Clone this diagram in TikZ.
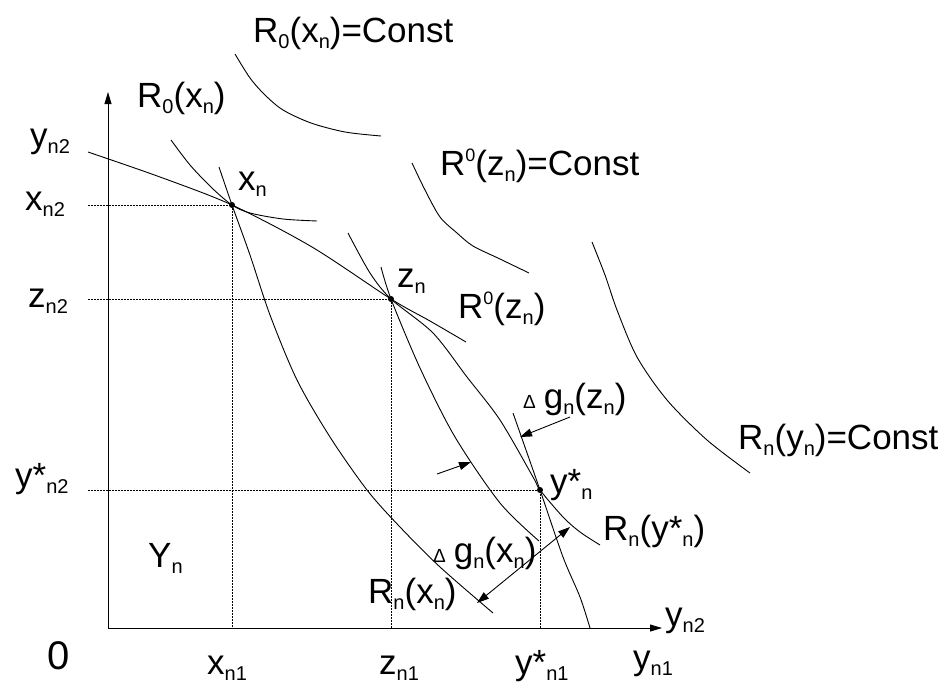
\documentclass[tikz,border=0pt]{standalone}
\usepackage{fontspec}
\setmainfont{Liberation Sans}
\usetikzlibrary{arrows.meta}
\newcommand\lsub[1]{\raisebox{-6pt}{\fontsize{20}{20}\selectfont #1}}
\newcommand\lsup[1]{\raisebox{14pt}{\fontsize{18}{18}\selectfont #1}}
\newcommand\dlt{{\fontsize{19}{19}\selectfont Δ}\hspace{8pt}}
\begin{document}
\begin{tikzpicture}[x=1pt,y=-1pt,
  lbl/.style={anchor=base west, inner sep=0pt, font=\fontsize{35}{35}\selectfont},
  crv/.style={line width=0.9pt, black},
  dotl/.style={dash pattern=on 1.5pt off 1.5pt, line width=0.8pt},
  arr/.style={line width=0.9pt, -{Triangle[length=12pt,width=8pt]}},
  darr/.style={line width=0.9pt, {Triangle[length=12pt,width=8pt]}-{Triangle[length=12pt,width=8pt]}},
  axis/.style={line width=0.9pt, -{Triangle[length=12pt,width=7pt]}},
  pt/.style={circle, fill, inner sep=0pt, minimum size=6pt}]
\useasboundingbox (0,0) rectangle (944,683);
\fill[white] (0,0) rectangle (944,683);

% axes
\coordinate (O) at (108,628);
\coordinate (Ytop) at (108,92);
\coordinate (Xend) at (662,628);
\draw[axis] (O) -- (Ytop);
\draw[axis] (O) -- (Xend);

% points
\node[pt] (xn) at (232,205) {};
\node[pt] (zn) at (391,299) {};
\node[pt] (yn) at (540,490) {};

% dotted guides
\coordinate (xl) at (88,205);
\coordinate (zl) at (88,299);
\coordinate (yl) at (88,490);
\draw[dotl] (xl) -- (xn.center) -- (xn.center |- O);
\draw[dotl] (zl) -- (zn.center) -- (zn.center |- O);
\draw[dotl] (yl) -- (yn.center) -- (yn.center |- O);

% frontier through x_n and z_n
\draw[crv] plot[smooth] coordinates {(88,152) (160,177) (xn.center) (312,247) (zn.center) (430,321) (466,342)};
% R_0(x_n)
\draw[crv] plot[smooth] coordinates {(171,140) (190,165) (212,188) (xn.center) (250,213) (283,219) (317,221)};
% R_n(x_n)
\draw[crv] plot[smooth] coordinates {(219,167) (xn.center) (250,255) (270,315) (297,380) (330,437) (367,490) (400,527) (440,567) (493,613)};
% curve through z_n to y*_n
\draw[crv] plot[smooth] coordinates {(348,233) (370,273) (zn.center) (433,333) (467,377) (500,420) (533,477) (yn.center) (563,517) (580,532) (600,545)};
% R_n(z_n)
\draw[crv] plot[smooth] coordinates {(381,267) (zn.center) (420,368) (455,437) (500,503) (539,541)};
% steep line through y*_n
\draw[crv] plot[smooth] coordinates {(513,413) (yn.center) (563,557) (580,597) (590,628)};
% level curves = Const
\draw[crv] plot[smooth] coordinates {(235,54) (250,78) (265,95) (283,110) (311,123) (345,132) (381,136)};
\draw[crv] plot[smooth] coordinates {(412,163) (425,190) (440,217) (457,233) (473,246) (500,259) (529,273)};
\draw[crv] plot[smooth] coordinates {(592,242) (605,275) (617,310) (637,357) (667,400) (707,440) (750,473)};

% Delta arrows
\coordinate (a1s) at (437,474);
\coordinate (a1e) at (471,462);
\coordinate (a2s) at (570,417);
\coordinate (a2e) at (520,437);
\coordinate (a3s) at (477,603);
\coordinate (a3e) at (570,527);
\draw[arr] (a1s) -- (a1e);
\draw[arr] (a2s) -- (a2e);
\draw[darr] (a3s) -- (a3e);

% labels
\node[lbl] (t1) at (253,42) {R\lsub{0}(x\lsub{n})=Const};
\node[lbl] (t2) at (137,107) {R\lsub{0}(x\lsub{n})};
\node[lbl] (t3) at (30,147) {y\lsub{n2}};
\node[lbl] (t4) at (25,210) {x\lsub{n2}};
\node[lbl] (t5) at (238,190) {x\lsub{n}};
\node[lbl] (t6) at (28,307) {z\lsub{n2}};
\node[lbl] (t7) at (397,287) {z\lsub{n}};
\node[lbl] (t8) at (458,318) {R\lsup{0}(z\lsub{n})};
\node[lbl] (t9) at (440,175) {R\lsup{0}(z\lsub{n})=Const};
\node[lbl] (t10) at (523,408) {\dlt g\lsub{n}(z\lsub{n})};
\node[lbl] (t11) at (550,493) {y*\lsub{n}};
\node[lbl] (t12) at (603,540) {R\lsub{n}(y*\lsub{n})};
\node[lbl] (t13) at (433,562) {\dlt g\lsub{n}(x\lsub{n})};
\node[lbl] (t14) at (368,603) {R\lsub{n}(x\lsub{n})};
\node[lbl] (t15) at (738,449) {R\lsub{n}(y\lsub{n})=Const};
\node[lbl] (t16) at (15,487) {y*\lsub{n2}};
\node[lbl] (t17) at (148,567) {Y\lsub{n}};
\node[lbl, font=\fontsize{40}{40}\selectfont] (t18) at (47,669) {0};
\node[lbl] (t19) at (207,674) {x\lsub{n1}};
\node[lbl] (t20) at (379,674) {z\lsub{n1}};
\node[lbl] (t21) at (515,674) {y*\lsub{n1}};
\node[lbl] (t22) at (633,669) {y\lsub{n1}};
\node[lbl] (t23) at (665,626) {y\lsub{n2}};
\end{tikzpicture}
\end{document}
